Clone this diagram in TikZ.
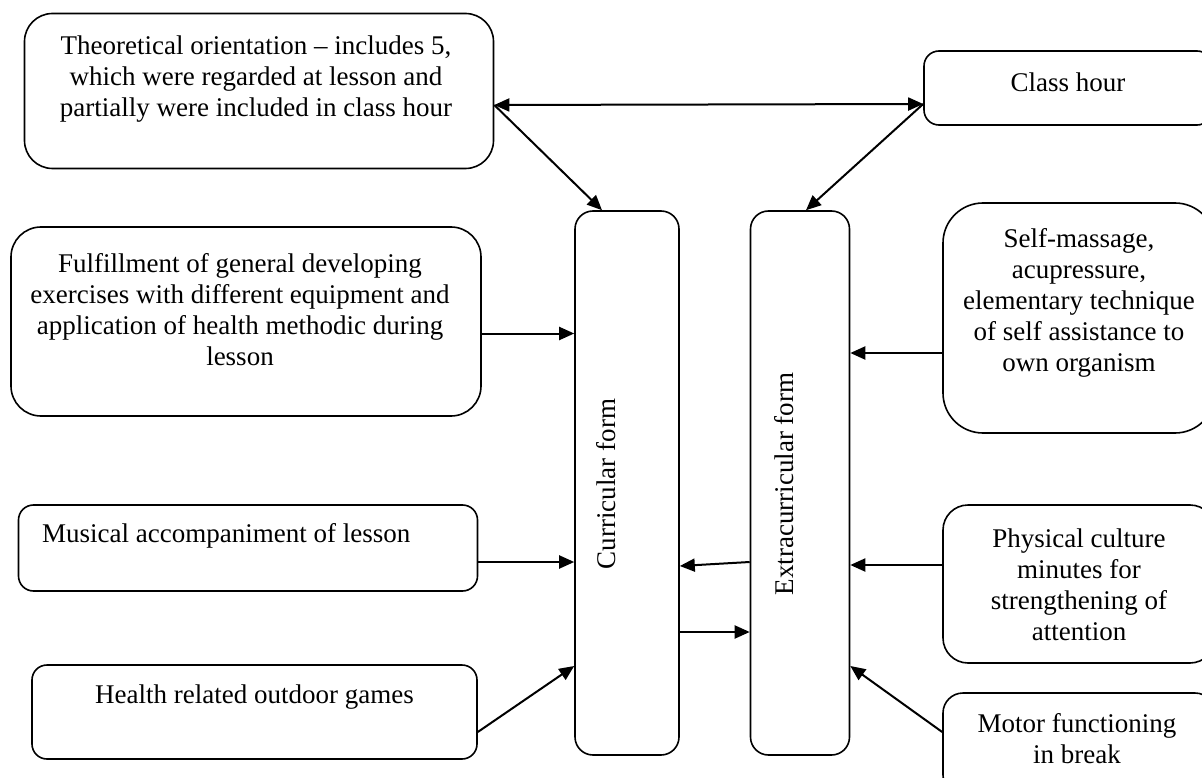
\documentclass[tikz,border=0pt]{standalone}
\usepackage{fontspec}
\setmainfont{Liberation Serif}
\usetikzlibrary{positioning, arrows.meta}

\begin{document}
\begin{tikzpicture}[x=1pt, y=-1pt, box/.style={shape=rectangle, draw, line width=1.6pt, rounded corners=#1}, box/.default=15pt, lbl/.style={align=center, font=\fontsize{27}{31}\selectfont, inner sep=0pt}, link/.style={line width=2pt, -{Triangle[length=15pt, width=13pt]}}]
\useasboundingbox (0,0) rectangle (1202,778);
% the two forms in the middle
\node[box=18pt, minimum width=104pt, minimum height=544pt] (cur) at (627,483) {};
\node[lbl, rotate=90] (cur text) at (606,484) {Curricular form};
\node[box=18pt, minimum width=99pt, minimum height=544pt] (ext) at (800,483) {};
\node[lbl, rotate=90] (ext text) at (784,484) {Extracurricular form};
% left column
\node[box=28pt, minimum width=469pt, minimum height=155pt] (theo) at (259,91) {};
\node[lbl] (theo text) at (256,79) {Theoretical orientation – includes 5,\\which were regarded at lesson and\\partially were included in class hour};
\node[box=30pt, minimum width=470pt, minimum height=189pt] (ful) at (246,321.5) {};
\node[lbl] (ful text) at (240,310) {Fulfillment of general developing\\exercises with different equipment and\\application of health methodic during\\lesson};
\node[box=15pt, minimum width=459pt, minimum height=86pt] (mus) at (248,548) {};
\node[lbl, anchor=west] (mus text) at (42,536) {Musical accompaniment of lesson};
\node[box=15pt, minimum width=445pt, minimum height=94pt] (hea) at (254.5,712) {};
\node[lbl] (hea text) at (254.5,697) {Health related outdoor games};
% right column
\node[box=15pt, minimum width=288pt, minimum height=74pt] (hour) at (1068,88) {};
\node[lbl] (hour text) at (1068,82) {Class hour};
\node[box=40pt, minimum width=272pt, minimum height=230pt] (self) at (1079,318) {};
\node[lbl] (self text) at (1079,303) {Self-massage,\\acupressure,\\elementary technique\\of self assistance to\\own organism};
\node[box=25pt, minimum width=272pt, minimum height=158pt] (phys) at (1079,584) {};
\node[lbl] (phys text) at (1079,585) {Physical culture\\minutes for\\strengthening of\\attention};
\node[box=20pt, minimum width=272pt, minimum height=102pt] (mot) at (1079,744) {};
\node[lbl] (mot text) at (1077,739) {Motor functioning\\in break};

% connectors
\coordinate (theo out) at ([yshift=-14pt]theo.east);
\coordinate (hour out) at ([yshift=-16pt]hour.west);
\draw[link, {Triangle[length=15pt, width=13pt]}-{Triangle[length=15pt, width=13pt]}] (theo out) -- (hour out);
\draw[link] (theo out) -- ([xshift=-25pt]cur.north);
\draw[link] (hour out) -- ([xshift=6pt]ext.north);
\foreach \a/\b/\s in {ful/cur/-12, mus/cur/-14, cur/ext/-149} {
	\coordinate (\a out) at ([yshift=\s pt]\a.east);
	\draw[link] (\a out) -- (\a out -| \b.west);
}
\foreach \a/\b/\s in {self/ext/-35, phys/ext/19} {
	\coordinate (\a out) at ([yshift=\s pt]\a.west);
	\draw[link] (\a out) -- (\a out -| \b.east);
}
\draw[link] ([yshift=-79pt]ext.west) -- ([yshift=-83pt]cur.east);
\draw[link] ([yshift=-20pt]hea.east) -- ([yshift=-183pt]cur.west);
\draw[link] ([yshift=12pt]mot.west) -- ([yshift=-183pt]ext.east);
\end{tikzpicture}
\end{document}
